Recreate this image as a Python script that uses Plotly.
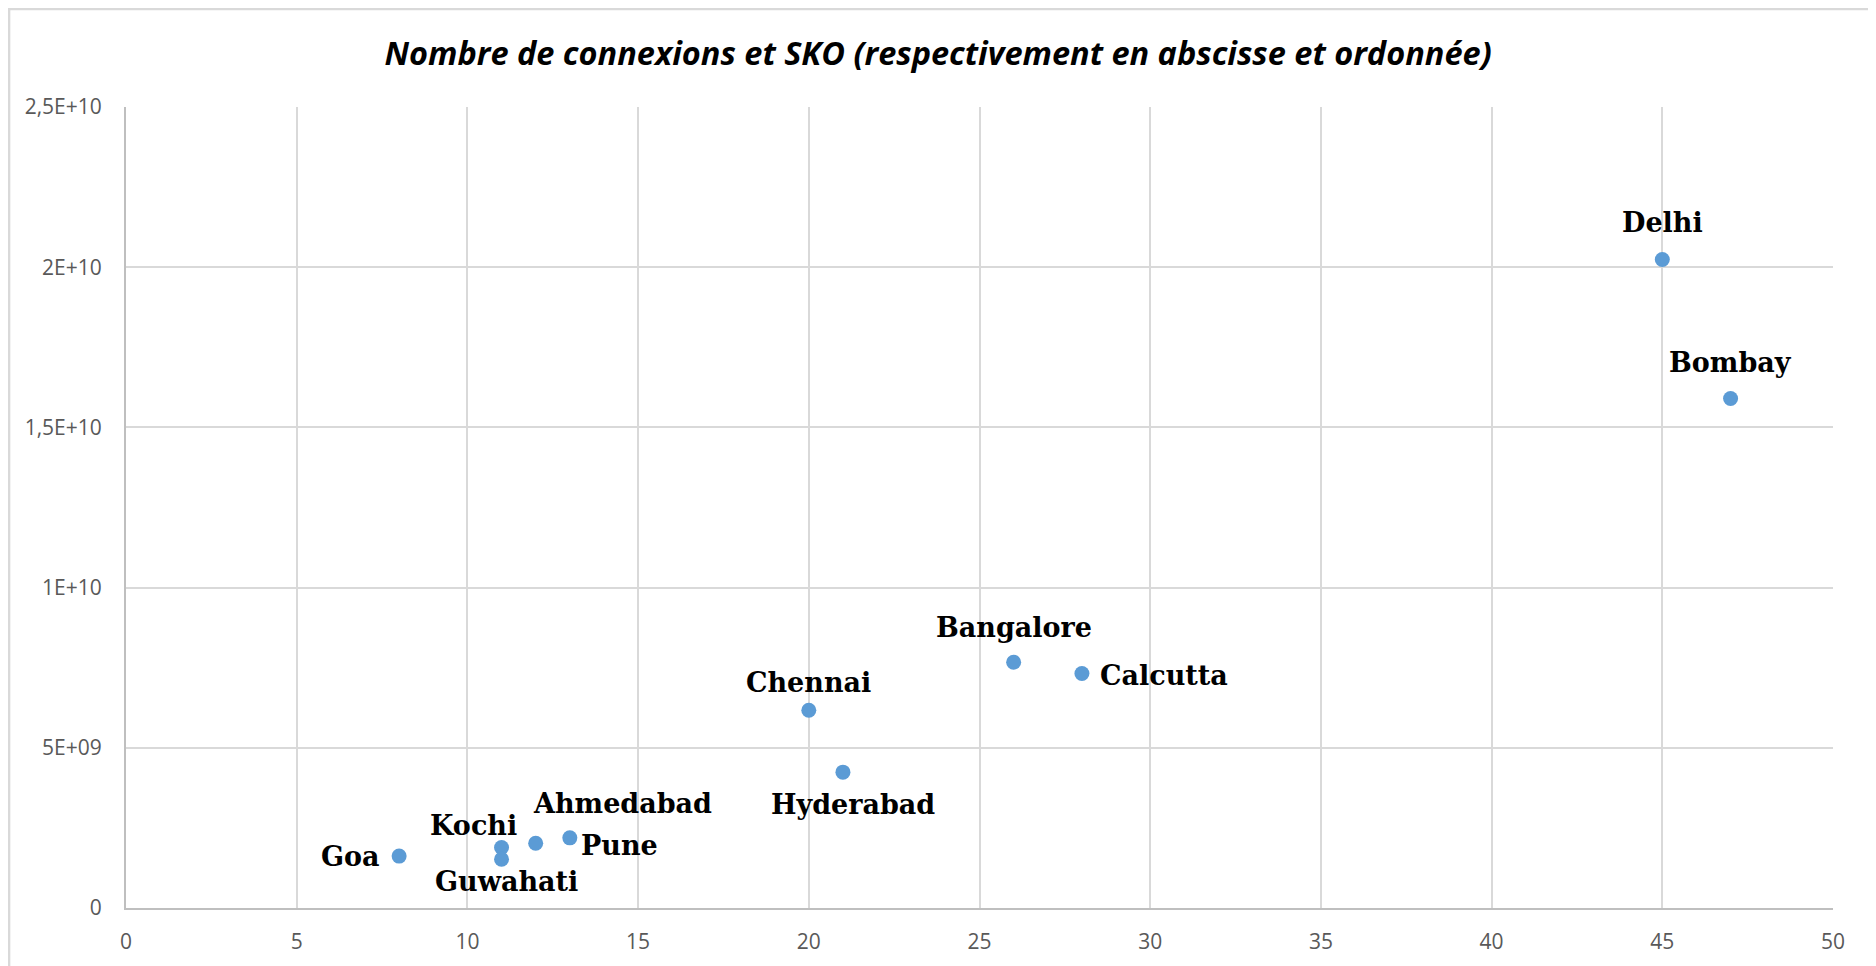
import plotly.graph_objects as go

cities = ["Goa", "Kochi", "Guwahati", "Ahmedabad", "Pune", "Chennai", "Hyderabad",
          "Bangalore", "Calcutta", "Delhi", "Bombay"]
connexions = [8, 11, 11, 12, 13, 20, 21, 26, 28, 45, 47]
sko = [1.62e9, 1.89e9, 1.52e9, 2.02e9, 2.19e9, 6.17e9, 4.24e9, 7.67e9, 7.32e9, 2.024e10, 1.59e10]

x_ticks = [0, 5, 10, 15, 20, 25, 30, 35, 40, 45, 50]
y_tickvals = [0, 5e9, 1e10, 1.5e10, 2e10, 2.5e10]
y_ticktext = ["0", "5E+09", "1E+10", "1,5E+10", "2E+10", "2,5E+10"]

# label placement (pixel offsets relative to the point)
label_pos = {
    "Goa": dict(xanchor="right", xshift=-17, yshift=0),
    "Kochi": dict(xanchor="center", xshift=-28, yshift=22),
    "Guwahati": dict(xanchor="center", xshift=5, yshift=-22),
    "Ahmedabad": dict(xanchor="center", xshift=87, yshift=40),
    "Pune": dict(xanchor="left", xshift=9, yshift=-8),
    "Chennai": dict(xanchor="center", xshift=0, yshift=28),
    "Hyderabad": dict(xanchor="center", xshift=10, yshift=-32),
    "Bangalore": dict(xanchor="center", xshift=0, yshift=35),
    "Calcutta": dict(xanchor="left", xshift=16, yshift=-2),
    "Delhi": dict(xanchor="center", xshift=0, yshift=37),
    "Bombay": dict(xanchor="center", xshift=0, yshift=36),
}

fig = go.Figure()
fig.add_trace(go.Scatter(
    x=connexions, y=sko, mode="markers",
    marker=dict(color="#5b9bd5", size=15),
    hoverinfo="skip", showlegend=False,
))

for c, xv, yv in zip(cities, connexions, sko):
    p = label_pos[c]
    fig.add_annotation(x=xv, y=yv, text=c, showarrow=False,
                       xanchor=p["xanchor"], yanchor="middle",
                       xshift=p["xshift"], yshift=p["yshift"],
                       font=dict(family="DejaVu Serif", size=27, color="#000000", weight="bold"))

# outer chart border
fig.add_shape(type="rect", xref="paper", yref="paper",
              x0=-0.0685, x1=1.0235, y0=-0.2, y1=1.1223,
              line=dict(color="#d9d9d9", width=2.5), layer="below")

fig.update_layout(
    width=1868, height=958,
    margin=dict(l=118, r=43, t=99, b=58),
    paper_bgcolor="white", plot_bgcolor="white",
    title=dict(text="Nombre de connexions et SKO (respectivement en abscisse et ordonnée)",
               x=0.4979, xref="container", xanchor="center", yref="container", y=0.952, yanchor="middle",
               font=dict(family="Open Sans", size=32.5, color="#000000", style="italic", weight="bold")),
    xaxis=dict(range=[0, 50], tickvals=x_ticks, showgrid=True, gridcolor="#d9d9d9", gridwidth=1.5,
               zeroline=False, showline=True, linecolor="#bfbfbf", linewidth=2,
               ticks="", ticklabelstandoff=14,
               tickfont=dict(family="Open Sans", size=21, color="#595959")),
    yaxis=dict(range=[0, 2.5e10], tickvals=y_tickvals, ticktext=y_ticktext,
               showgrid=True, gridcolor="#d9d9d9", gridwidth=1.5,
               zeroline=False, showline=True, linecolor="#bfbfbf", linewidth=2,
               ticks="", ticklabelstandoff=18,
               tickfont=dict(family="Open Sans", size=21, color="#595959")),
)

fig.write_html("out.html")
